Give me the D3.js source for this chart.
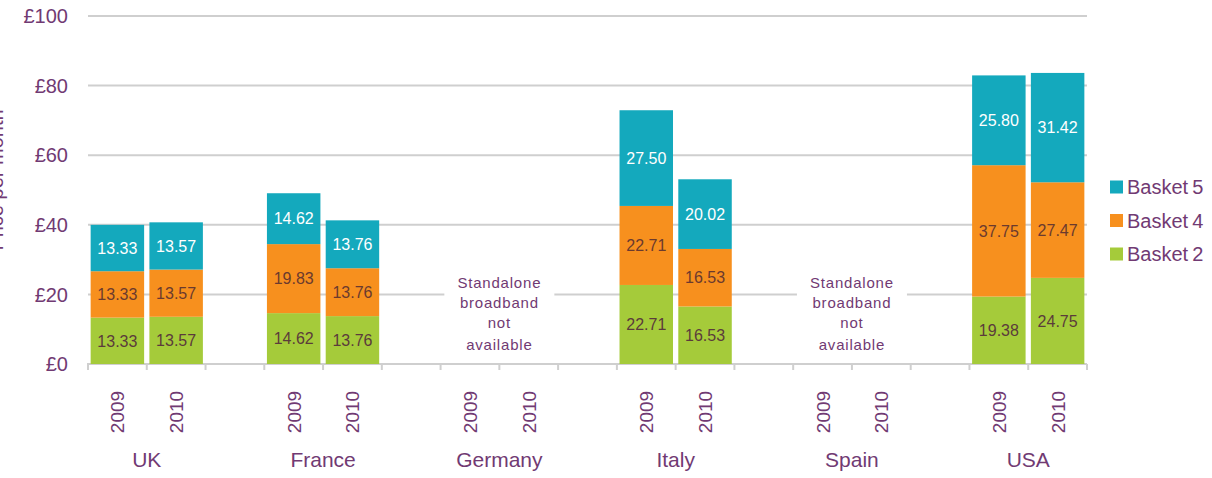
<!DOCTYPE html>
<html><head><meta charset="utf-8">
<script src="https://cdn.jsdelivr.net/npm/d3@7"></script>
<style>body{margin:0;background:#fff}svg{display:block;font-family:"Liberation Sans",Arial,sans-serif}</style>
</head><body><svg id="c" width="1212" height="478"></svg>
<script>
const countries = ["UK","France","Germany","Italy","Spain","USA"];
const years = ["2009","2010"];
const seriesNames = ["Basket 2","Basket 4","Basket 5"];
// values per [country][year]; null = not available
const basket2 = [[13.33,13.57],[14.62,13.76],[null,null],[22.71,16.53],[null,null],[19.38,24.75]];
const basket4 = [[13.33,13.57],[19.83,13.76],[null,null],[22.71,16.53],[null,null],[37.75,27.47]];
const basket5 = [[13.33,13.57],[14.62,13.76],[null,null],[27.50,20.02],[null,null],[25.80,31.42]];
const yTicks = [0,20,40,60,80,100];
const naNote = ["Standalone","broadband","not","available"];

const colors = {"Basket 2":"#a5cb3a","Basket 4":"#f7901e","Basket 5":"#14a9bd"};
const labelColors = {"Basket 2":"#5b3b3b","Basket 4":"#6b3a2e","Basket 5":"#ffffff"};
const textColor = "#713a73";

const svg = d3.select("#c");
const m = {l:88, r:1087, t:16, b:364};

const slots = [];
countries.forEach((c,ci)=>{
  years.forEach((y,yi)=>slots.push(c+"|"+y));
  if (ci < countries.length-1) slots.push("gap"+ci);
});
const x = d3.scaleBand().domain(slots).range([m.l, m.r]).paddingInner(0.09).paddingOuter(0.045);
const xs = d3.scaleBand().domain(slots).range([m.l, m.r]).padding(0);
const y = d3.scaleLinear().domain([0,100]).range([m.b, m.t]);

// gridlines
svg.append("g").selectAll("line").data(yTicks.filter(d=>d>0)).join("line")
  .attr("x1", m.l).attr("x2", m.r).attr("y1", d=>y(d)).attr("y2", d=>y(d))
  .attr("stroke","#cfcfcf").attr("stroke-width",2);

// y axis labels
svg.append("g").selectAll("text").data(yTicks).join("text")
  .attr("x", 68).attr("y", d=>y(d)).attr("dy","0.36em").attr("text-anchor","end")
  .attr("fill", textColor).attr("font-size",20).text(d=>"£"+d);

// y axis title (cut off at left edge, as in the reference)
svg.append("text").attr("transform","translate(3,180) rotate(-90)")
  .attr("text-anchor","middle").attr("fill",textColor).attr("font-size",20)
  .text("Price per month");

// x axis line and ticks
svg.append("line").attr("x1",m.l-1).attr("x2",m.r).attr("y1",m.b).attr("y2",m.b)
  .attr("stroke","#cfcfcf").attr("stroke-width",2);
const tickXs = slots.map(s=>xs(s)).concat([m.r]);
svg.append("g").selectAll("line").data(tickXs).join("line")
  .attr("x1",d=>d).attr("x2",d=>d).attr("y1",m.b).attr("y2",m.b+6)
  .attr("stroke","#cfcfcf").attr("stroke-width",2);

// stacked data
const rows = [];
countries.forEach((c,ci)=>years.forEach((yr,yi)=>{
  rows.push({key:c+"|"+yr, "Basket 2":basket2[ci][yi], "Basket 4":basket4[ci][yi], "Basket 5":basket5[ci][yi]});
}));
const stack = d3.stack().keys(seriesNames).value((d,k)=>d[k]||0);
const stacked = stack(rows);

stacked.forEach(layer=>{
  const g = svg.append("g");
  layer.forEach(seg=>{
    if (seg.data[layer.key]==null) return;
    g.append("rect").attr("x", x(seg.data.key)).attr("width", x.bandwidth())
      .attr("y", y(seg[1])).attr("height", y(seg[0])-y(seg[1]))
      .attr("fill", colors[layer.key]);
    g.append("text").attr("x", x(seg.data.key)+x.bandwidth()/2)
      .attr("y", (y(seg[0])+y(seg[1]))/2).attr("dy","0.36em")
      .attr("text-anchor","middle").attr("font-size",16)
      .attr("fill", labelColors[layer.key])
      .text(seg.data[layer.key].toFixed(2));
  });
});

// not-available notes
countries.forEach((c,ci)=>{
  if (basket2[ci][0]!=null) return;
  const cx = (xs(c+"|2009") + xs(c+"|2010") + xs.bandwidth())/2;
  svg.append("rect").attr("x",cx-55).attr("y",268).attr("width",110).attr("height",88).attr("fill","#fff");
  svg.append("g").selectAll("text").data(naNote).join("text")
    .attr("x",cx).attr("y",(d,i)=>[283,303,323,345][i]).attr("dy","0.36em")
    .attr("text-anchor","middle").attr("font-size",15).attr("fill",textColor)
    .attr("letter-spacing","0.8px").text(d=>d);
});

// year labels
rows.forEach(r=>{
  const cx = xs(r.key)+xs.bandwidth()/2;
  svg.append("text").attr("transform",`translate(${cx+7},412) rotate(-90)`)
    .attr("text-anchor","middle").attr("font-size",19).attr("fill",textColor)
    .text(r.key.split("|")[1]);
});
// country labels
countries.forEach(c=>{
  const cx = (xs(c+"|2009") + xs(c+"|2010") + xs.bandwidth())/2;
  svg.append("text").attr("x",cx).attr("y",459).attr("dy","0.36em")
    .attr("text-anchor","middle").attr("font-size",21).attr("fill",textColor).text(c);
});

// legend
const legendItems = seriesNames.slice().reverse();
const lg = svg.append("g").attr("transform","translate(1110,187)");
legendItems.forEach((s,i)=>{
  lg.append("rect").attr("x",0).attr("y",i*33.5-6.5).attr("width",13).attr("height",13).attr("fill",colors[s]);
  lg.append("text").attr("x",17).attr("y",i*33.5).attr("dy","0.36em").attr("font-size",20)
    .attr("fill",textColor).text(s.replace(" ","\u2009"));
});
</script></body></html>
